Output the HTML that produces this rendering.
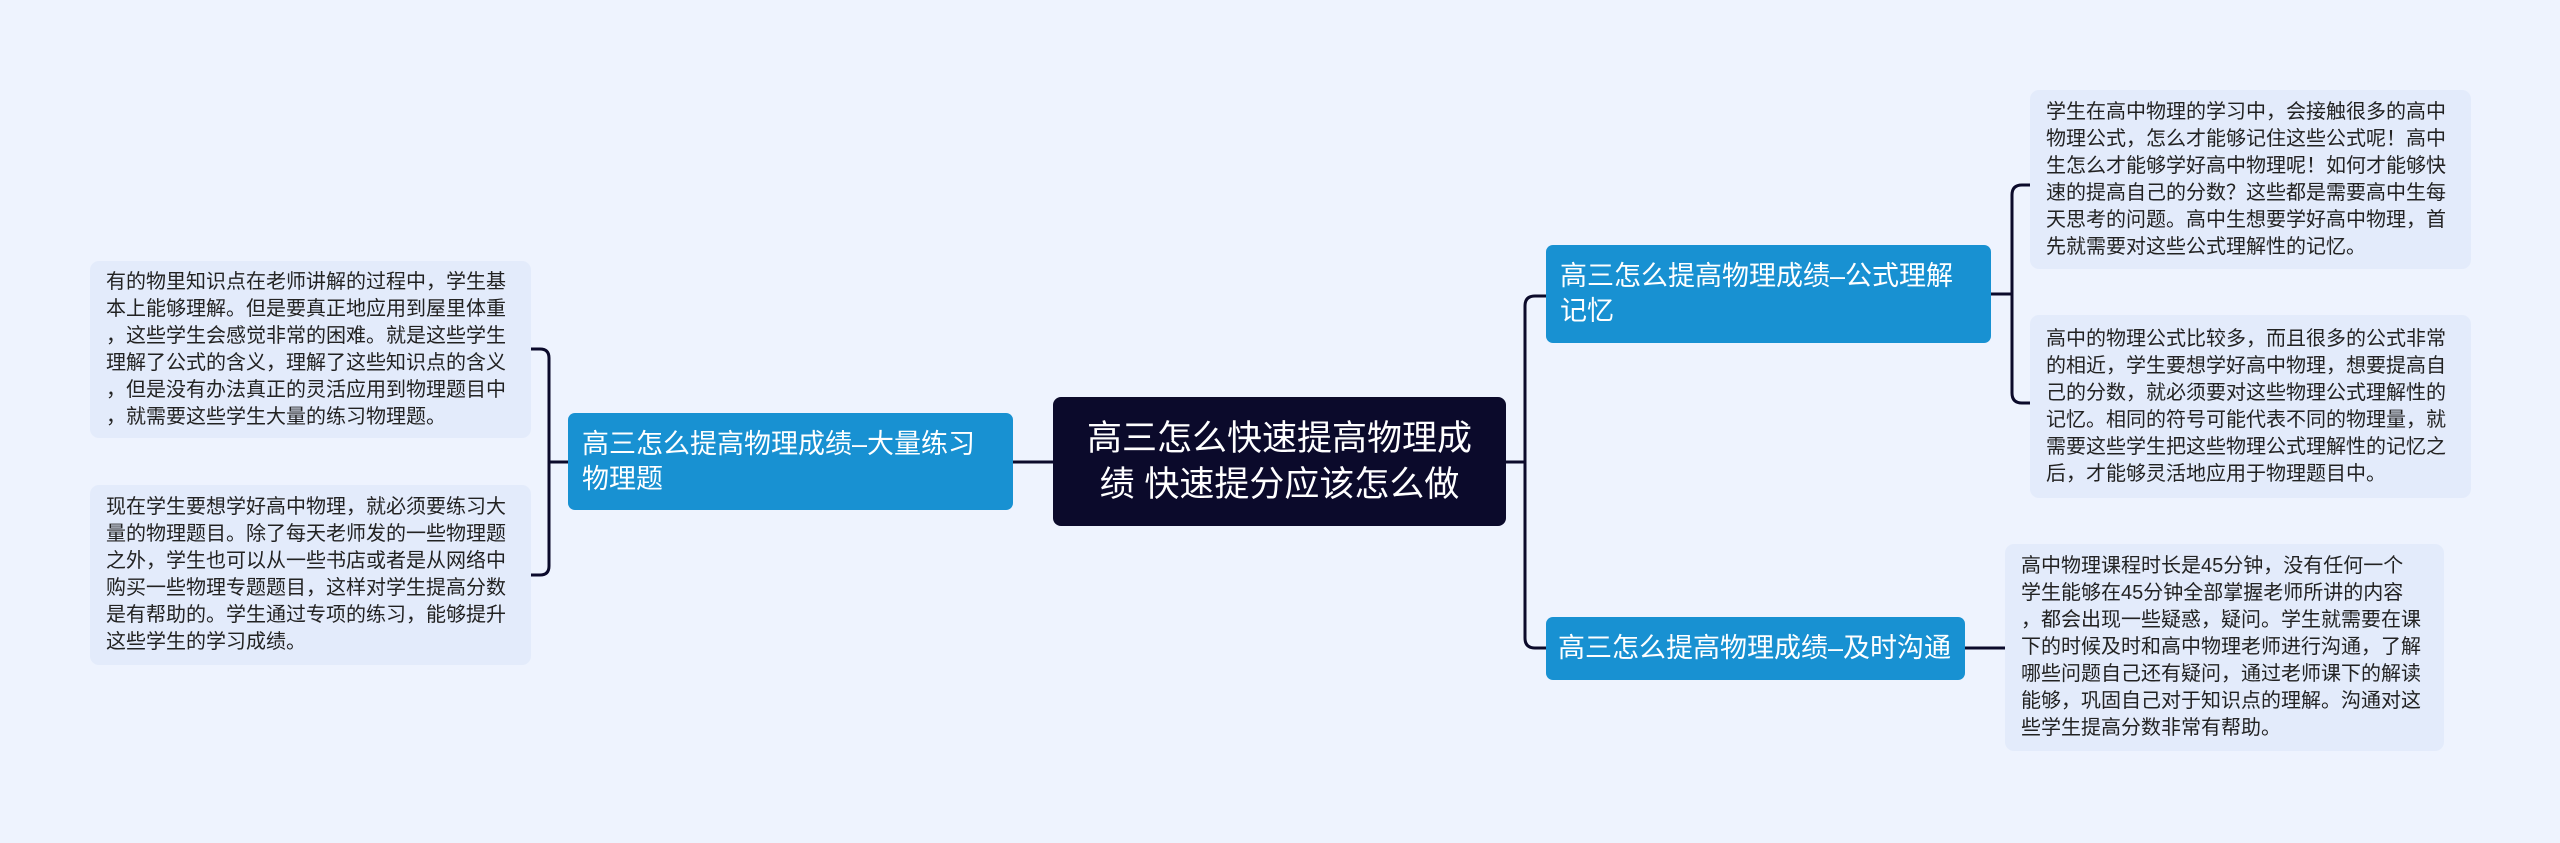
<!DOCTYPE html>
<html><head><meta charset="utf-8"><style>
body{margin:0;width:2560px;height:843px;background:#eef3fe;position:relative;overflow:hidden;font-family:"Liberation Sans","Noto Sans CJK SC",sans-serif}
.n{position:absolute;box-sizing:border-box}
.c{background:#0b0a2b;color:#fff;border-radius:8px;font-size:35px;line-height:46px;text-align:center;display:flex;align-items:center;justify-content:center;padding:0 20px}
.b{background:#1891d2;color:#fff;border-radius:7px;font-size:27px;line-height:35px;padding:0 14px;display:flex;align-items:center}
.l{background:#e3ebfb;color:#222;border-radius:9px;font-size:20px;line-height:27px;padding:0 16px;display:flex;align-items:center;word-break:break-all;line-break:anywhere}
</style></head><body>
<svg class="n" style="left:0;top:0" width="2560" height="843">
<g fill="none" stroke="#0b0a2b" stroke-width="3">
<path d="M1013 462H1053"/>
<path d="M568 462H549M531 349H540Q549 349 549 358V566Q549 575 540 575H531"/>
<path d="M1506 462H1525M1546 296H1535Q1525 296 1525 306V638Q1525 648 1535 648H1546"/>
<path d="M1991 294H2012M2030 185H2022Q2012 185 2012 195V393Q2012 403 2022 403H2030"/>
<path d="M1965 648H2005"/>
</g></svg>
<div class="n c" style="left:1053px;top:397px;width:453px;height:129px">高三怎么快速提高物理成绩 快速提分应该怎么做</div>
<div class="n b" style="left:568px;top:413px;width:445px;height:97px">高三怎么提高物理成绩–大量练习物理题</div>
<div class="n b" style="left:1546px;top:245px;width:445px;height:98px">高三怎么提高物理成绩–公式理解记忆</div>
<div class="n b" style="left:1546px;top:617px;width:419px;height:63px;white-space:nowrap;padding:0 12px">高三怎么提高物理成绩–及时沟通</div>
<div class="n l" style="left:90px;top:261px;width:441px;height:177px">有的物里知识点在老师讲解的过程中，学生基本上能够理解。但是要真正地应用到屋里体重，这些学生会感觉非常的困难。就是这些学生理解了公式的含义，理解了这些知识点的含义，但是没有办法真正的灵活应用到物理题目中，就需要这些学生大量的练习物理题。</div>
<div class="n l" style="left:90px;top:485px;width:441px;height:180px">现在学生要想学好高中物理，就必须要练习大量的物理题目。除了每天老师发的一些物理题之外，学生也可以从一些书店或者是从网络中购买一些物理专题题目，这样对学生提高分数是有帮助的。学生通过专项的练习，能够提升这些学生的学习成绩。</div>
<div class="n l" style="left:2030px;top:90px;width:441px;height:179px">学生在高中物理的学习中，会接触很多的高中物理公式，怎么才能够记住这些公式呢！高中生怎么才能够学好高中物理呢！如何才能够快速的提高自己的分数？这些都是需要高中生每天思考的问题。高中生想要学好高中物理，首先就需要对这些公式理解性的记忆。</div>
<div class="n l" style="left:2030px;top:315px;width:441px;height:183px">高中的物理公式比较多，而且很多的公式非常的相近，学生要想学好高中物理，想要提高自己的分数，就必须要对这些物理公式理解性的记忆。相同的符号可能代表不同的物理量，就需要这些学生把这些物理公式理解性的记忆之后，才能够灵活地应用于物理题目中。</div>
<div class="n l" style="left:2005px;top:544px;width:439px;height:207px;white-space:nowrap"><div>高中物理课程时长是45分钟，没有任何一个<br>学生能够在45分钟全部掌握老师所讲的内容<br>，都会出现一些疑惑，疑问。学生就需要在课<br>下的时候及时和高中物理老师进行沟通，了解<br>哪些问题自己还有疑问，通过老师课下的解读<br>能够，巩固自己对于知识点的理解。沟通对这<br>些学生提高分数非常有帮助。</div></div>
</body></html>
